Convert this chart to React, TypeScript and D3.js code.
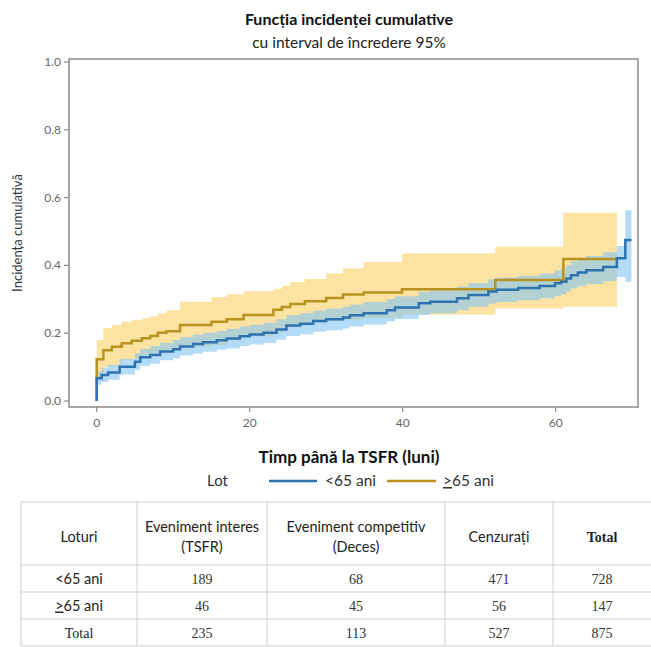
import React from "react";
import * as d3 from "d3";

const title = "Funcția incidenței cumulative";
const subtitle = "cu interval de încredere 95%";
const xLabel = "Timp până la TSFR (luni)";
const yLabel = "Incidența cumulativă";
const xTicks = [0, 20, 40, 60];
const yTicks = [0, 0.2, 0.4, 0.6, 0.8, 1.0];

const blueT = [0, 0, 0.65, 1.5, 3.0, 5.0, 5.7, 7.0, 8.3, 10.0, 10.9, 12.6, 13.9, 15.7, 17.0, 18.7, 20.0, 21.8, 23.5, 24.8, 26.6, 28.3, 30.0, 32.2, 33.1, 34.9, 37.9, 39.0, 42.1, 43.6, 47.1, 48.6, 51.2, 52.3, 55.1, 57.9, 59.9, 60.7, 61.4, 62.0, 62.9, 64.0, 66.2, 68.0, 69.1, 69.9];
const blueV = [0, 0.067, 0.077, 0.084, 0.101, 0.116, 0.129, 0.136, 0.146, 0.153, 0.161, 0.168, 0.173, 0.179, 0.184, 0.191, 0.196, 0.201, 0.211, 0.223, 0.228, 0.236, 0.241, 0.246, 0.253, 0.259, 0.268, 0.276, 0.288, 0.293, 0.303, 0.313, 0.323, 0.328, 0.333, 0.339, 0.347, 0.352, 0.361, 0.371, 0.379, 0.386, 0.395, 0.421, 0.475, 0.475];
const blueHi = [0, 0.087, 0.099, 0.107, 0.125, 0.141, 0.154, 0.162, 0.172, 0.180, 0.188, 0.196, 0.201, 0.207, 0.213, 0.220, 0.225, 0.231, 0.241, 0.254, 0.259, 0.267, 0.273, 0.278, 0.285, 0.292, 0.301, 0.309, 0.322, 0.327, 0.338, 0.348, 0.359, 0.364, 0.369, 0.376, 0.385, 0.391, 0.401, 0.412, 0.420, 0.428, 0.439, 0.457, 0.563, 0.563];
const blueLo = [0, 0.048, 0.056, 0.063, 0.078, 0.092, 0.104, 0.110, 0.120, 0.126, 0.134, 0.140, 0.145, 0.151, 0.155, 0.162, 0.167, 0.171, 0.181, 0.192, 0.197, 0.204, 0.209, 0.214, 0.220, 0.226, 0.235, 0.242, 0.254, 0.259, 0.268, 0.278, 0.287, 0.292, 0.297, 0.303, 0.310, 0.315, 0.323, 0.332, 0.339, 0.345, 0.353, 0.366, 0.352, 0.352];

const goldT = [0, 0, 0.87, 1.96, 3.27, 4.58, 5.9, 7.0, 8.0, 9.1, 10.9, 15.0, 17.0, 19.2, 23.1, 24.2, 25.3, 27.2, 30.0, 32.2, 34.9, 39.9, 52.1, 61.0, 68.0];
const goldV = [0, 0.123, 0.150, 0.160, 0.170, 0.178, 0.185, 0.192, 0.201, 0.206, 0.224, 0.234, 0.241, 0.254, 0.269, 0.277, 0.286, 0.294, 0.304, 0.314, 0.320, 0.330, 0.357, 0.419, 0.419];
const goldHi = [0, 0.180, 0.215, 0.224, 0.234, 0.240, 0.244, 0.250, 0.259, 0.268, 0.293, 0.307, 0.315, 0.324, 0.331, 0.340, 0.351, 0.360, 0.376, 0.391, 0.410, 0.435, 0.455, 0.555, 0.555];
const goldLo = [0, 0.067, 0.100, 0.105, 0.120, 0.125, 0.135, 0.140, 0.145, 0.148, 0.160, 0.165, 0.180, 0.190, 0.200, 0.215, 0.220, 0.230, 0.235, 0.240, 0.245, 0.255, 0.273, 0.278, 0.278];

const legendLabels = ["<65 ani", "65 ani"];

const tableHeader = [["Loturi"], ["Eveniment interes", "(TSFR)"], ["Eveniment competitiv", "(Deces)"], ["Cenzurați"], ["Total"]];
const rowLabels = ["<65 ani", "65 ani", "Total"];
const colTSFR = [189, 46, 235];
const colDeces = [68, 45, 113];
const colCenz = [471, 56, 527];
const colTotal = [728, 147, 875];

const BLUE = "#2f72b0";
const GOLD = "#b8921e";
const SANS = "Lato, 'Open Sans', sans-serif";
const SERIF = "'Liberation Serif', 'DejaVu Serif', serif";

export default function App() {
  const x = d3.scaleLinear().domain([0, 60]).range([96.7, 555.7]);
  const y = d3.scaleLinear().domain([0, 1]).range([401, 62]);
  const left = 69, right = 638, top = 59, bottom = 407;

  const mk = (t: number[], v: number[]) => t.map((tt, i) => [tt, v[i]] as [number, number]);
  const line = d3.line<[number, number]>().x(d => x(d[0])).y(d => y(d[1])).curve(d3.curveStepAfter);
  const area = d3.area<[number, number, number]>().x(d => x(d[0])).y0(d => y(d[1])).y1(d => y(d[2])).curve(d3.curveStepAfter);
  const band = (t: number[], lo: number[], hi: number[]) => t.map((tt, i) => [tt, lo[i], hi[i]] as [number, number, number]);

  const colX = [21, 137, 267, 445, 553, 651];
  const rowY = [502, 565, 592, 619, 646];
  const cx = (i: number) => (colX[i] + colX[i + 1]) / 2;
  const cols = [colTSFR, colDeces, colCenz, colTotal];

  return (
    <div style={{ position: "fixed", left: 0, top: 0, background: "#fff" }}>
      <svg width={651} height={647} style={{ display: "block" }}>
        <rect width={651} height={647} fill="#fff" />
        <text x={349} y={25} textAnchor="middle" fontFamily={SANS} fontWeight="bold" fontSize={16} fill="#111">{title}</text>
        <text x={349} y={48} textAnchor="middle" fontFamily={SANS} fontSize={15.5} fill="#222">{subtitle}</text>

        <path d={area(band(goldT, goldLo, goldHi)) || ""} fill="#fcd77a" opacity={0.7} />
        <path d={area(band(blueT, blueLo, blueHi)) || ""} fill="#82c4f4" opacity={0.6} />
        <path d={line(mk(goldT, goldV)) || ""} fill="none" stroke={GOLD} strokeWidth={2.5} />
        <path d={line(mk(blueT, blueV)) || ""} fill="none" stroke={BLUE} strokeWidth={2.5} />

        <rect x={left} y={top} width={right - left} height={bottom - top} fill="none" stroke="#8a8a8a" strokeWidth={1.5} />
        {yTicks.map(v => (
          <g key={v}>
            <line x1={left - 5} x2={left} y1={y(v)} y2={y(v)} stroke="#8a8a8a" strokeWidth={1.2} />
            <text x={left - 8} y={y(v) + 4} textAnchor="end" fontFamily={SANS} fontSize={12} fill="#666">{v.toFixed(1)}</text>
          </g>
        ))}
        {xTicks.map(v => (
          <g key={v}>
            <line x1={x(v)} x2={x(v)} y1={bottom} y2={bottom + 5} stroke="#8a8a8a" strokeWidth={1.2} />
            <text x={x(v)} y={427} textAnchor="middle" fontFamily={SANS} fontSize={12} fill="#666">{v}</text>
          </g>
        ))}
        <text transform={`translate(22,${(top + bottom) / 2}) rotate(-90)`} textAnchor="middle" fontFamily={SANS} fontSize={13} fill="#333">{yLabel}</text>
        <text x={349} y={463} textAnchor="middle" fontFamily={SANS} fontWeight="bold" fontSize={17} fill="#111">{xLabel}</text>

        <text x={207} y={486} fontFamily={SANS} fontSize={15} fill="#333">Lot</text>
        <line x1={269} x2={317} y1={481} y2={481} stroke={BLUE} strokeWidth={2.5} />
        <text x={325} y={486} fontFamily={SANS} fontSize={15.5} fill="#333">{legendLabels[0]}</text>
        <line x1={387} x2={436} y1={481} y2={481} stroke={GOLD} strokeWidth={2.5} />
        <text x={443} y={486} fontFamily={SANS} fontSize={15.5} fill="#333"><tspan textDecoration="underline">&gt;</tspan>{legendLabels[1]}</text>

        {rowY.map((ry, i) => <line key={"h" + i} x1={colX[0]} x2={651} y1={ry} y2={ry} stroke="#cfcfcf" strokeWidth={1} />)}
        {colX.slice(0, 5).map((cxv, i) => <line key={"v" + i} x1={cxv} x2={cxv} y1={rowY[0]} y2={rowY[4]} stroke="#cfcfcf" strokeWidth={1} />)}

        {tableHeader.map((lines, i) => {
          const isTotal = i === 4;
          const mid = 538;
          return lines.map((ln, j) => (
            <text key={i + "-" + j} x={cx(i)} y={lines.length === 1 ? mid + 4 : mid - 6 + j * 20} textAnchor="middle"
              fontFamily={isTotal ? SERIF : SANS} fontWeight={isTotal ? "bold" : "normal"} fontSize={isTotal ? 14 : 14.5} fill="#222">{ln}</text>
          ));
        })}
        {rowLabels.map((lab, r) => {
          const ty = (rowY[r + 1] + rowY[r + 2]) / 2 + 5;
          return (
            <g key={"r" + r}>
              {r === 2 ? (
                <text x={cx(0)} y={ty} textAnchor="middle" fontFamily={SERIF} fontSize={14} fill="#222">{lab}</text>
              ) : r === 1 ? (
                <text x={cx(0)} y={ty} textAnchor="middle" fontFamily={SANS} fontSize={14.5} fill="#222"><tspan textDecoration="underline">&gt;</tspan>{lab}</text>
              ) : (
                <text x={cx(0)} y={ty} textAnchor="middle" fontFamily={SANS} fontSize={14.5} fill="#222">{lab}</text>
              )}
              {cols.map((c, ci) => (
                <text key={ci} x={cx(ci + 1)} y={ty} textAnchor="middle" fontFamily={SERIF} fontSize={14} fill="#333">{c[r]}</text>
              ))}
            </g>
          );
        })}
      </svg>
    </div>
  );
}
